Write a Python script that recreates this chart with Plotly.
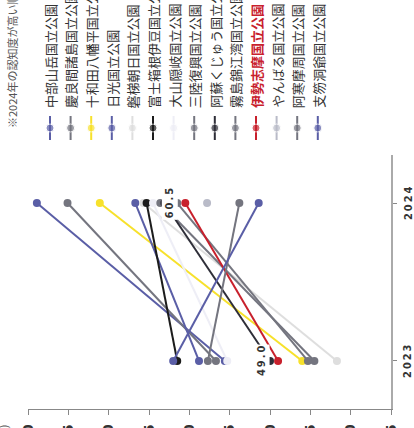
import plotly.graph_objects as go

parks = ["中部山岳国立公園", "慶良間諸島国立公園", "十和田八幡平国立公園", "日光国立公園",
         "磐梯朝日国立公園", "富士箱根伊豆国立公園", "大山隠岐国立公園", "三陸復興国立公園",
         "阿蘇くじゅう国立公園", "霧島錦江湾国立公園", "伊勢志摩国立公園", "やんばる国立公園",
         "阿寒摩周国立公園", "支笏洞爺国立公園"]
v2024 = [78.9, 75.1, 71.1, 66.7, 65.7, 65.3, 64.5, 63.6, 63.1, 61.5, 60.5, 57.8, 53.8, 51.4]
v2023 = [55.6, 56.7, 46.0, 58.8, 41.7, 61.5, 55.3, 44.5, 50.0, 45.3, 49.0, None, 57.7, 62.0]
years = ["2023", "2024"]
x_ticks = [35, 40, 45, 50, 55, 60, 65, 70, 75, 80]
highlight = "伊勢志摩国立公園"
note = "※2024年の認知度が高い順"

BLUE = "#5a5ea6"
GRAY = "#74757f"
colors = [BLUE, GRAY, "#f7e12b", BLUE, "#dedede", "#1c1c1c", "#eeeef6", GRAY,
          "#2e2e38", GRAY, "#c8202c", "#b9bbc8", GRAY, BLUE]

W, H = 414, 428
MB = 19
PH = H - MB
COND = "DejaVu Sans Condensed, DejaVu Sans, sans-serif"
JP = "Noto Sans CJK JP, sans-serif"

fig = go.Figure()

# slope lines
for name, a, b, c in zip(parks, v2023, v2024, colors):
    if a is None:
        xs, ys = [b], [1]
    else:
        xs, ys = [a, b], [0, 1]
    fig.add_trace(go.Scatter(x=xs, y=ys, mode="lines+markers",
                             line=dict(color=c, width=2),
                             marker=dict(color=c, size=8),
                             xaxis="x", yaxis="y", hoverinfo="skip"))

# legend (custom, vertical text)
for name, c in zip(parks, colors):
    fig.add_trace(go.Scatter(x=[name, name, name], y=[10, 22, 34], mode="lines+markers",
                             line=dict(color=c, width=2),
                             marker=dict(color=c, size=[0, 8, 0]),
                             xaxis="x2", yaxis="y2", hoverinfo="skip"))

ann = []
for name in parks:
    hl = name == highlight
    ann.append(dict(x=name, y=40, xref="x2", yref="y2", text=f"<b>{name}</b>" if hl else name,
                    textangle=-90, showarrow=False, xanchor="center", yanchor="bottom",
                    font=dict(family=JP, size=13, color="#c8202c" if hl else "#333333")))

ann.append(dict(x=12 / W, y=(PH - 130) / PH, xref="paper", yref="paper", text=note,
                textangle=-90, showarrow=False, xanchor="center", yanchor="bottom",
                font=dict(family=JP, size=11, color="#555555")))
ann.append(dict(x=3 / W, y=(PH - 422) / PH, xref="paper", yref="paper", text="(%)",
                textangle=-90, showarrow=False, xanchor="center", yanchor="top",
                font=dict(family=JP, size=11, color="#555555")))

# year labels
for yv, yl in zip([0, 1], years):
    ann.append(dict(x=408 / W, y=yv, xref="paper", yref="y",
                    text="<b>" + "\u2009".join(yl) + "</b>", textangle=-90,
                    showarrow=False, xanchor="center", yanchor="middle",
                    font=dict(family=COND, size=11, color="#333333")))

hi = parks.index(highlight)
for yv, val in ((0, v2023[hi]), (1, v2024[hi])):
    ann.append(dict(x=val, y=yv, xref="x", yref="y", xshift=-16,
                    text="<b>" + "\u2009".join(f"{val:.1f}") + "</b>",
                    textangle=-90, showarrow=False, bgcolor="white", borderpad=1,
                    font=dict(family=COND, size=11, color="#333333")))

step = 20.6
fig.update_layout(
    width=W, height=H,
    margin=dict(l=0, r=0, t=0, b=MB, pad=0, autoexpand=False),
    paper_bgcolor="white", plot_bgcolor="white",
    showlegend=False,
    annotations=ann,
    xaxis=dict(domain=[28 / W, 391 / W], range=[80, 35], tickvals=x_ticks,
               ticktext=[f"<b>{t}</b>" for t in x_ticks],
               ticks="outside", ticklen=5, tickcolor="#888888", showline=True,
               linecolor="#888888", linewidth=1, showgrid=False, zeroline=False,
               tickangle=-90, tickfont=dict(family=COND, size=14, color="#333333"),
               ticklabelstandoff=4,
               anchor="y", fixedrange=True, automargin=False),
    yaxis=dict(domain=[0, 254 / PH], range=[-0.304, 1.304], side="right",
               tickvals=[0, 1], showticklabels=False,
               ticks="outside", ticklen=4, tickcolor="#888888", showline=True,
               linecolor="#aaaaaa", linewidth=1.5, showgrid=False, zeroline=False,
               anchor="x", fixedrange=True, automargin=False),
    xaxis2=dict(domain=[0, 1], anchor="y2", type="category", categoryorder="array",
                categoryarray=parks, range=[-50 / step, (W - 50) / step], visible=False,
                automargin=False),
    yaxis2=dict(domain=[(PH - 150) / PH, 1], anchor="x2", range=[0, 150], visible=False,
                automargin=False),
)

fig.write_html("out.html", config={"displayModeBar": False, "staticPlot": True},
               post_script="document.body.style.margin='0';document.body.style.overflow='hidden';")
